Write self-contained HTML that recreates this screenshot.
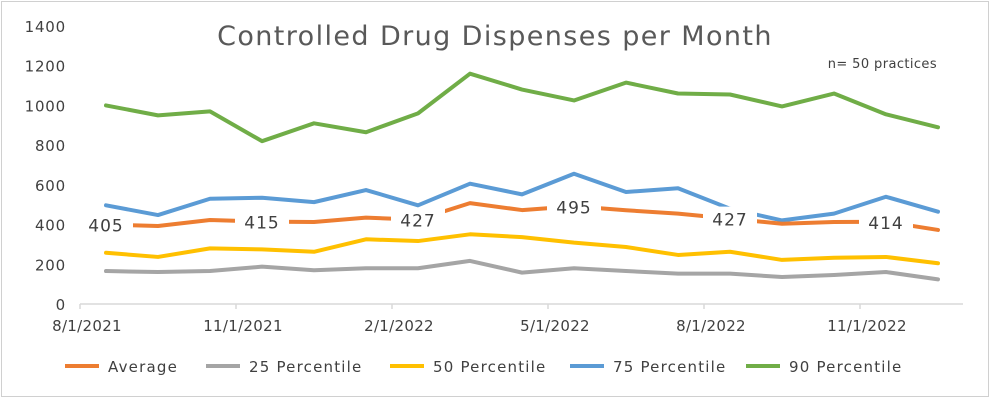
<!DOCTYPE html>
<html><head><meta charset="utf-8"><style>
body{margin:0;background:#fff;}
svg{display:block;font-family:"DejaVu Sans","Liberation Sans",sans-serif;}
</style></head><body>
<svg id="chart" width="991" height="400">
<rect x="1.5" y="1.5" width="987" height="395" fill="#fff" stroke="#d0d0d0"/>
<text x="495" y="45" text-anchor="middle" font-size="27" letter-spacing="1.4" fill="#595959">Controlled Drug Dispenses per Month</text>
<text x="937" y="68" text-anchor="end" font-size="13" letter-spacing="0.4" fill="#404040">n= 50 practices</text>
<g id="axes"></g><g id="series"></g><g id="labels"></g><g id="legend"></g>
</svg>
<script>
const months = ["8/2021","9/2021","10/2021","11/2021","12/2021","1/2022","2/2022","3/2022","4/2022","5/2022","6/2022","7/2022","8/2022","9/2022","10/2022","11/2022","12/2022"];
const xTickLabels = ["8/1/2021","11/1/2021","2/1/2022","5/1/2022","8/1/2022","11/1/2022"];
const yTicks = [0,200,400,600,800,1000,1200,1400];
const p25 = [166,161,166,188,170,180,180,217,158,180,166,153,153,136,146,161,124];
const p50 = [258,237,280,275,263,326,317,351,337,309,287,247,263,222,233,237,205];
const p75 = [497,448,530,535,513,574,497,606,552,656,564,583,480,421,455,540,465];
const p90 = [1000,950,970,820,910,865,960,1160,1080,1025,1115,1060,1055,995,1060,955,890];
const avg = [400,393,423,415,413,435,425,508,473,492,472,455,430,404,413,414,373];
const avgLabels = [405,415,427,495,427,414];
const avgLabelIdx = [0,3,6,9,12,15];
const NS="http://www.w3.org/2000/svg";
const x0=80, mW=52, y0=304, yScale=278/1400;
const X=i=>x0+mW*(i+0.5);
const Y=v=>y0-v*yScale;
function mk(tag,attrs,parent,text){const e=document.createElementNS(NS,tag);for(const k in attrs)e.setAttribute(k,attrs[k]);if(text!==undefined)e.textContent=text;parent.appendChild(e);return e;}
const axes=document.getElementById('axes');
let e=mk('line',{x1:x0,x2:963,y1:y0,y2:y0,stroke:'#d9d9d9','stroke-width':1.5},axes);


xTickLabels.forEach((t,i)=>{
  const x=x0+i*3*mW;
  let tk=mk('line',{x1:x,x2:x,y1:y0,y2:y0+5,stroke:'#d9d9d9','stroke-width':1.5},axes);
  
  
  let tl=mk('text',{x:x+7,y:331,'text-anchor':'middle','font-size':15,'letter-spacing':0.3,fill:'#404040'},axes,t);
  
  
});
yTicks.forEach(v=>{
  let tl=mk('text',{x:66,y:Y(v)+6,'text-anchor':'end','font-size':15,'letter-spacing':0.8,fill:'#404040'},axes,v);
  
  
});
const series=[["p25",p25,"#a5a5a5"],["p50",p50,"#ffc000"],["p75",p75,"#5b9bd5"],["p90",p90,"#70ad47"],["average",avg,"#ed7d31"]];
const sg=document.getElementById('series');
series.forEach(([n,d,c])=>{
  let p=mk('polyline',{points:d.map((v,i)=>X(i)+','+Y(v)).join(' '),fill:'none',stroke:c,'stroke-width':4,'stroke-linejoin':'round','stroke-linecap':'round'},sg);
  
  
});
const lg=document.getElementById('labels');
avgLabelIdx.forEach((idx,k)=>{
  const x=X(idx), y=Y(avg[idx]);
  let r=mk('rect',{x:x-27,y:y-12,width:54,height:24,fill:'#fff'},lg);
  
  
  let t=mk('text',{x:x,y:y+7,'text-anchor':'middle','font-size':17,'letter-spacing':1,fill:'#404040'},lg,avgLabels[k]);
  
  
});
const legend=[["Average","#ed7d31",65],["25 Percentile","#a5a5a5",206],["50 Percentile","#ffc000",390],["75 Percentile","#5b9bd5",570],["90 Percentile","#70ad47",746]];
const leg=document.getElementById('legend');
legend.forEach(([n,c,x])=>{
  let l=mk('line',{x1:x,x2:x+34,y1:366,y2:366,stroke:c,'stroke-width':4},leg);
  
  
  let t=mk('text',{x:x+43,y:372,'font-size':15,'letter-spacing':1.2,fill:'#404040'},leg,n);
  
  
});
</script>
</body></html>
